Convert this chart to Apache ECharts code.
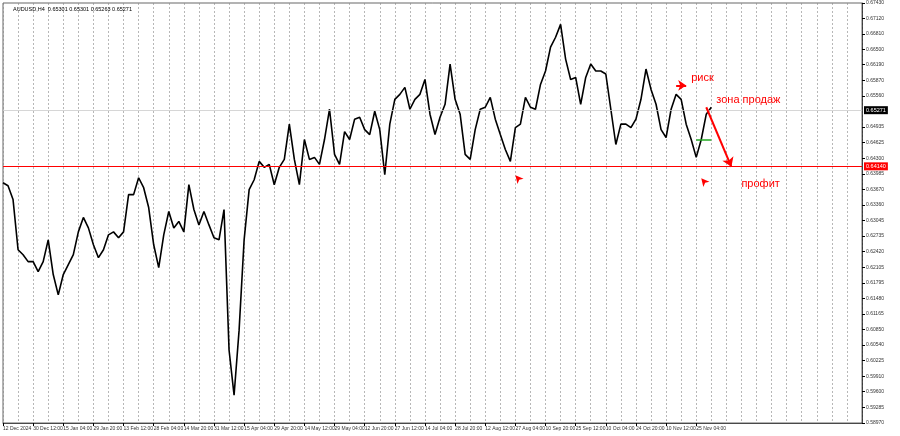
<!DOCTYPE html>
<html>
<head>
<meta charset="utf-8">
<script src="https://cdn.jsdelivr.net/npm/echarts@6/dist/echarts.min.js"></script>
<style>
  html, body { margin: 0; padding: 0; background: #fff; }
  #chart { width: 900px; height: 436px; }
</style>
</head>
<body>
<div id="chart"></div>
<script>
// AUDUSD H4 close (approx)
const closes = [
  0.6381, 0.6375, 0.6347, 0.6246, 0.6236, 0.6222, 0.6222, 0.6202, 0.6222, 0.6266,
  0.6196, 0.6155, 0.6196, 0.6216, 0.6236, 0.6282, 0.6311, 0.6290, 0.6256, 0.6230,
  0.6246, 0.6276, 0.6282, 0.6270, 0.6282, 0.6357, 0.6357, 0.6391, 0.6371, 0.6331,
  0.6256, 0.6210, 0.6276, 0.6323, 0.6290, 0.6303, 0.6282, 0.6377, 0.6327, 0.6296,
  0.6323, 0.6296, 0.6270, 0.6266, 0.6327, 0.6044, 0.5953, 0.6084, 0.6266, 0.6367,
  0.6387, 0.6424, 0.6412, 0.6418, 0.6377, 0.6412, 0.6428, 0.6499, 0.6428, 0.6377,
  0.6468, 0.6428, 0.6432, 0.6418, 0.6468, 0.6529, 0.6438, 0.6418, 0.6484, 0.6468,
  0.6509, 0.6513, 0.6488, 0.6478, 0.6525, 0.6488, 0.6397, 0.6499, 0.6549, 0.6559,
  0.6573, 0.6529, 0.6549, 0.6559, 0.6589, 0.6519, 0.6478, 0.6513, 0.6539, 0.6620,
  0.6549, 0.6519, 0.6438, 0.6428, 0.6488, 0.6529, 0.6533, 0.6553, 0.6509, 0.6478,
  0.6448, 0.6424, 0.6492, 0.6499, 0.6553, 0.6533, 0.6529, 0.6579, 0.6606, 0.6654,
  0.6674, 0.6700, 0.6630, 0.6589, 0.6593, 0.6539, 0.6593, 0.6620, 0.6606, 0.6606,
  0.6600, 0.6529, 0.6458, 0.6499, 0.6499, 0.6492, 0.6509, 0.6549, 0.6610, 0.6569,
  0.6539, 0.6488, 0.6472, 0.6529, 0.6559, 0.6549, 0.6499, 0.6468, 0.6432, 0.6468,
  0.6519, 0.6533
];

const dateLabels = [
  '12 Dec 2024', '30 Dec 12:00', '15 Jan 04:00', '29 Jan 20:00', '13 Feb 12:00',
  '28 Feb 04:00', '14 Mar 20:00', '31 Mar 12:00', '15 Apr 04:00', '29 Apr 20:00',
  '14 May 12:00', '29 May 04:00', '12 Jun 20:00', '27 Jun 12:00', '14 Jul 04:00',
  '28 Jul 20:00', '12 Aug 12:00', '27 Aug 04:00', '10 Sep 20:00', '25 Sep 12:00',
  '10 Oct 04:00', '24 Oct 20:00', '10 Nov 12:00', '25 Nov 04:00'
];

const priceTicks = [
  0.67430, 0.67120, 0.66810, 0.66500, 0.66190, 0.65870, 0.65560, 0.64935,
  0.64625, 0.64300, 0.63985, 0.63670, 0.63360, 0.63045, 0.62735, 0.62420,
  0.62105, 0.61795, 0.61480, 0.61165, 0.60850, 0.60540, 0.60225, 0.59910,
  0.59600, 0.59285, 0.58970
];

const supportLevel = 0.6414;
const lastPrice = 0.65271;
const nCats = 172;
const labelStep = 6;

const cats = [];
for (let i = 0; i < nCats; i++) {
  const k = i / labelStep;
  cats.push(i % labelStep === 0 && k < dateLabels.length ? dateLabels[k] : '');
}

const chart = echarts.init(document.getElementById('chart'));
const red = '#f00';
const small = { fontFamily: 'Liberation Sans Narrow, Liberation Sans', fontSize: 5, color: '#333' };
const note = { fontFamily: 'Liberation Sans', fontSize: 11, color: red };

chart.setOption({
  animation: false,
  title: {
    text: 'AUDUSD,H4  0.65301 0.65301 0.65263 0.65271',
    left: 8, top: 1,
    textStyle: { fontFamily: 'Liberation Sans', fontSize: 5.5, fontWeight: 'normal', color: '#000' }
  },
  grid: { left: 2, right: 38, top: 3, bottom: 13, show: true, borderColor: '#000', borderWidth: 0.6 },
  xAxis: {
    type: 'category',
    data: cats,
    boundaryGap: false,
    axisLine: { lineStyle: { color: '#000', width: 0.6 } },
    axisTick: { interval: (i, v) => v !== '', length: 3, lineStyle: { color: '#000' } },
    axisLabel: { ...small, interval: (i, v) => v !== '', align: 'left', margin: 3, hideOverlap: false, showMinLabel: true },
    splitLine: {
      show: true,
      interval: i => i % 3 === 0,
      lineStyle: { color: '#888', type: [2, 2], width: 0.6 }
    }
  },
  yAxis: {
    type: 'value',
    position: 'right',
    min: 0.5897,
    max: 0.6743,
    axisLine: { show: true, lineStyle: { color: '#000', width: 0.6 } },
    axisTick: { show: true, length: 3, customValues: priceTicks },
    axisLabel: { ...small, margin: 4, customValues: priceTicks, formatter: v => v.toFixed(5) },
    splitLine: { show: false }
  },
  series: [{
    type: 'line',
    data: closes,
    symbol: 'none',
    lineStyle: { color: '#000', width: 1.6 },
    markLine: {
      silent: true,
      symbol: 'none',
      precision: 5,
      lineStyle: { color: red, width: 1.2, type: 'solid' },
      data: [
        { yAxis: supportLevel, lineStyle: { color: red, width: 1.2, type: 'solid' },
          label: { position: 'end', formatter: '0.64140', color: '#fff', backgroundColor: red, fontSize: 5.5, padding: [1, 2], distance: 2 } },
        { yAxis: lastPrice, lineStyle: { color: '#ccc', width: 0.8, type: 'solid' },
          label: { position: 'end', formatter: '0.65271', color: '#fff', backgroundColor: '#000', fontSize: 5.5, padding: [1, 2], distance: 2 } },
        [{ coord: [137.5, 0.6468], lineStyle: { color: '#2a2', width: 1.5, type: 'solid' }, label: { show: false } },
         { coord: [140.8, 0.6468] }],
        [{ coord: [140, 0.6533], symbol: 'none', lineStyle: { color: red, width: 2, type: 'solid' }, label: { show: false } },
         { coord: [144.5, 0.6413], symbol: 'arrow', symbolSize: 9 }],
        [{ coord: [133.6, 0.6577], symbol: 'none', lineStyle: { color: red, width: 2, type: 'solid' }, label: { show: false } },
         { coord: [136.2, 0.6577], symbol: 'arrow', symbolSize: 8 }]
      ]
    },
    markPoint: {
      silent: true,
      data: [
        { coord: [101.6, 0.6396], symbol: 'arrow', symbolSize: [6, 8], symbolRotate: 40, itemStyle: { color: red }, label: { show: false } },
        { coord: [139.2, 0.6390], symbol: 'arrow', symbolSize: [6, 8], symbolRotate: 40, itemStyle: { color: red }, label: { show: false } },
        { coord: [135.6, 0.6592], symbol: 'circle', symbolSize: 0,
          label: { ...note, show: true, formatter: 'риск', position: 'right' } },
        { coord: [140.6, 0.6547], symbol: 'circle', symbolSize: 0,
          label: { ...note, show: true, formatter: 'зона продаж', position: 'right' } },
        { coord: [146.3, 0.6379], symbol: 'circle', symbolSize: 0,
          label: { ...note, show: true, formatter: 'профит', position: 'right' } }
      ]
    }
  }]
});

window.addEventListener('resize', () => chart.resize());
</script>
</body>
</html>
